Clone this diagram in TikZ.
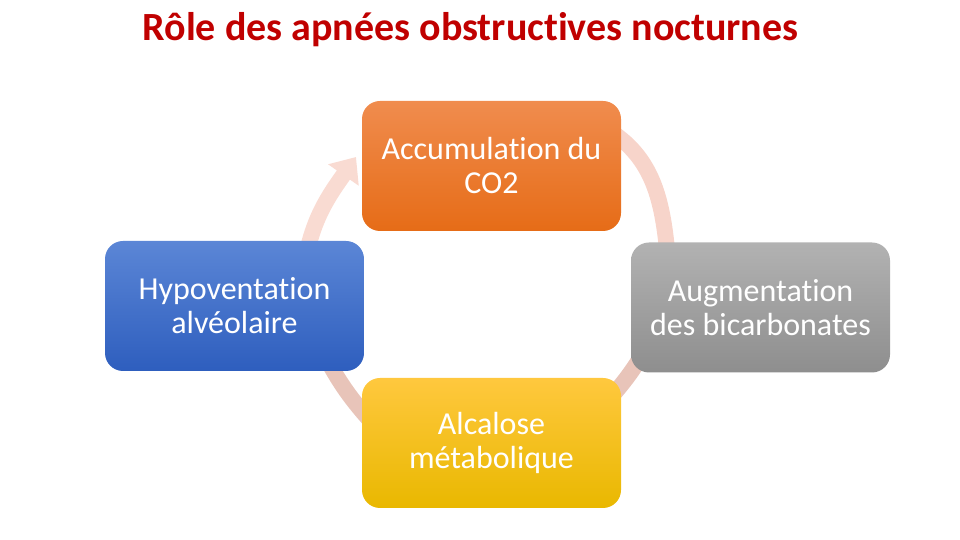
\documentclass[tikz,border=0pt]{standalone}
\usepackage{fontspec}
\setmainfont{Carlito}[Ligatures=NoCommon,RawFeature={-liga;-clig;-calt}]
\usetikzlibrary{arrows.meta,backgrounds,positioning}

\definecolor{titlered}{HTML}{C00000}
\definecolor{orangetop}{HTML}{F08C4E}
\definecolor{orangebot}{HTML}{E66C17}
\definecolor{bluetop}{HTML}{5B86D6}
\definecolor{bluebot}{HTML}{2E5EBE}
\definecolor{greytop}{HTML}{B2B2B2}
\definecolor{greybot}{HTML}{8E8E8E}
\definecolor{yellowtop}{HTML}{FFC83E}
\definecolor{yellowmid}{HTML}{FFC000}
\definecolor{yellowbot}{HTML}{E9B800}
\definecolor{ringlight}{HTML}{F9DBD2}
\definecolor{ringmid}{HTML}{F7D4CA}
\definecolor{ringdark}{HTML}{E8C4B9}

\tikzset{
  stage/.style={rounded corners=18pt, minimum width=259pt, minimum height=130pt,
    inner sep=0pt, align=center, text=white, font=\fontsize{32}{34}\selectfont},
  ring/.style={line width=16pt},
}

\begin{document}
\begin{tikzpicture}[x=1pt,y=1pt]
          \useasboundingbox (0,0) rectangle (960,540);

          \node[font=\bfseries\fontsize{40}{44}\selectfont,text=titlered] (title) at (470.5,510) {Rôle des apnées obstructives nocturnes};

          \node[stage,top color=orangetop,bottom color=orangebot] (accu) at (491.5,374) {Accumulation du\\CO2};
          \node[stage,top color=greytop,bottom color=greybot] (augm) at (760.5,232.5) {Augmentation\\des bicarbonates};
          \node[stage,top color=yellowtop,middle color=yellowmid,bottom color=yellowbot] (alca) at (491.5,97) {Alcalose\\métabolique};
          \node[stage,top color=bluetop,bottom color=bluebot] (hypo) at (234.5,234) {Hypoventation\\alvéolaire};

          \begin{pgfonlayer}{background}
            \draw[ring,ringlight,-{Triangle[width=36pt,length=22pt]}] ([shift={(70.5,44)}]hypo.center) to[out=80,in=235] ([shift={(-135.5,9)}]accu.center);
            \draw[ring,ringmid] ([shift={(113.5,38)}]accu.center) to[out=-30,in=95] ([shift={(-92.5,47.5)}]augm.center);
            \draw[ring,ringdark] ([shift={(-105.5,-24.5)}]augm.center) to[bend left=8] ([shift={(106.5,32)}]alca.center);
            \draw[ring,ringdark] ([shift={(-114.5,15)}]alca.center) to[bend left=8] ([shift={(85.5,-40)}]hypo.center);
          \end{pgfonlayer}
        \end{tikzpicture}
\end{document}
